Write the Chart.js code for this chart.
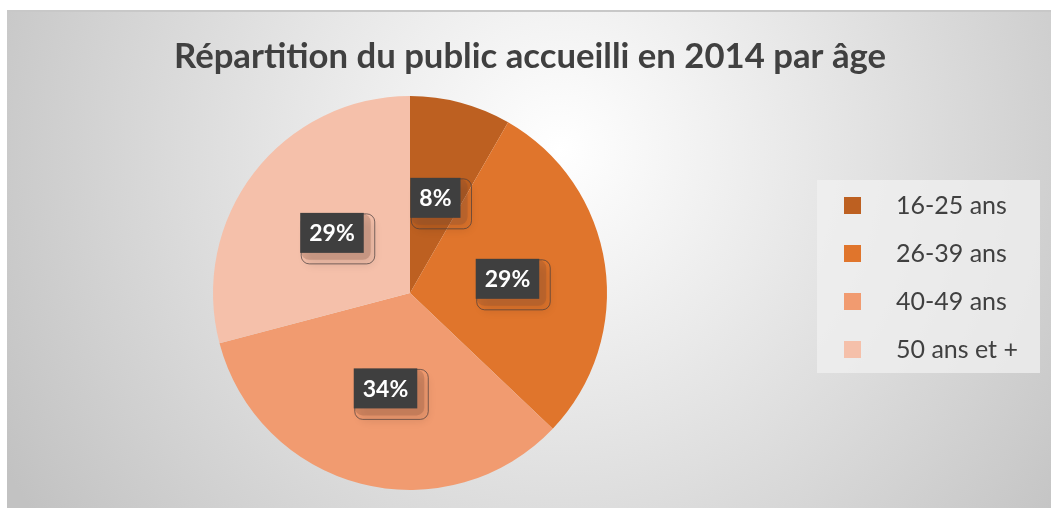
<!DOCTYPE html>
<html>
<head>
<meta charset="utf-8">
<script src="https://cdn.jsdelivr.net/npm/chart.js@4"></script>
<style>
  html, body { margin: 0; padding: 0; background: #fff; }
  #wrap { width: 1051px; height: 508px; }
</style>
</head>
<body>
<div id="wrap"><canvas id="ageChart" width="1051" height="508"></canvas></div>
<script>
// Chart data
const chartTitle = 'Répartition du public accueilli en 2014 par âge';
const ageGroups = ['16-25 ans', '26-39 ans', '40-49 ans', '50 ans et +'];
const shares = [8.3, 28.8, 33.8, 29.1];
const sliceColors = ['#BD6021', '#E0752C', '#F19B70', '#F5C0AA'];

// Background panel, title and legend drawn behind/around the pie
const decorPlugin = {
    id: 'decor',
    beforeDraw(chart) {
        const ctx = chart.ctx;
        ctx.save();
        ctx.fillStyle = '#ffffff';
        ctx.fillRect(0, 0, chart.width, chart.height);
        const g = ctx.createRadialGradient(560, 150, 0, 560, 150, 640);
        g.addColorStop(0, '#ffffff');
        g.addColorStop(0.45, '#e4e4e4');
        g.addColorStop(1, '#c2c2c2');
        ctx.fillStyle = g;
        ctx.fillRect(7, 10, chart.width - 7, chart.height - 10);
        ctx.fillStyle = '#c8c8c8';
        ctx.fillRect(7, 10, chart.width - 7, 2);

        // title
        ctx.fillStyle = '#404040';
        ctx.textAlign = 'center';
        ctx.textBaseline = 'middle';
        let size = 30;
        ctx.font = 'bold ' + size + 'px Lato';
        const w = ctx.measureText(chartTitle).width;
        size = size * 713 / w;
        ctx.font = 'bold ' + size.toFixed(1) + 'px Lato';
        ctx.fillText(chartTitle, 530, 57);

        // legend panel
        ctx.fillStyle = 'rgba(240,240,240,0.75)';
        ctx.fillRect(817, 180, 223, 193);
        ctx.textAlign = 'left';
        ctx.font = '25px Lato';
        chart.data.labels.forEach((lab, i) => {
            const y = 205 + i * 48;
            ctx.fillStyle = chart.data.datasets[0].backgroundColor[i];
            ctx.fillRect(844, y - 8, 17, 17);
            ctx.fillStyle = '#404040';
            ctx.fillText(lab, 896, y + 1);
        });
        ctx.restore();
    },
    afterDatasetsDraw(chart) {
        const ctx = chart.ctx;
        const ds = chart.data.datasets[0];
        const total = ds.data.reduce((a, b) => a + b, 0);
        const meta = chart.getDatasetMeta(0);
        ctx.save();
        ctx.font = 'bold 23px Lato';
        ctx.textAlign = 'center';
        ctx.textBaseline = 'middle';
        meta.data.forEach((arc, i) => {
            const p = arc.tooltipPosition();
            const txt = Math.round(ds.data[i] / total * 100) + '%';
            const tw = ctx.measureText(txt).width;
            const bw = tw + 18, bh = 40;
            const x = p.x - bw / 2, y = p.y - bh / 2;
            // soft shadow frame
            ctx.save();
            ctx.shadowColor = 'rgba(0,0,0,0.35)';
            ctx.shadowBlur = 8;
            ctx.shadowOffsetX = 4;
            ctx.shadowOffsetY = 6;
            ctx.fillStyle = 'rgba(120,70,50,0.25)';
            ctx.beginPath();
            ctx.roundRect(x + 1, y + 1, bw + 6, bh + 6, 8);
            ctx.fill();
            ctx.restore();
            ctx.strokeStyle = 'rgba(70,60,60,0.7)';
            ctx.lineWidth = 1;
            ctx.beginPath();
            ctx.roundRect(x + 1, y + 1, bw + 10, bh + 10, 8);
            ctx.stroke();
            ctx.fillStyle = '#3f3f3f';
            ctx.fillRect(x, y, bw, bh);
            ctx.fillStyle = '#ffffff';
            ctx.fillText(txt, p.x, p.y + 1);
        });
        ctx.restore();
    }
};

new Chart(document.getElementById('ageChart'), {
    type: 'pie',
    data: {
        labels: ageGroups,
        datasets: [{
            data: shares,
            backgroundColor: sliceColors,
            borderWidth: 0
        }]
    },
    options: {
        responsive: false,
        animation: false,
        layout: { padding: { left: 213, right: 444, top: 96, bottom: 18 } },
        plugins: {
            legend: { display: false },
            title: { display: false },
            tooltip: { enabled: false }
        }
    },
    plugins: [decorPlugin]
});
</script>
</body>
</html>
